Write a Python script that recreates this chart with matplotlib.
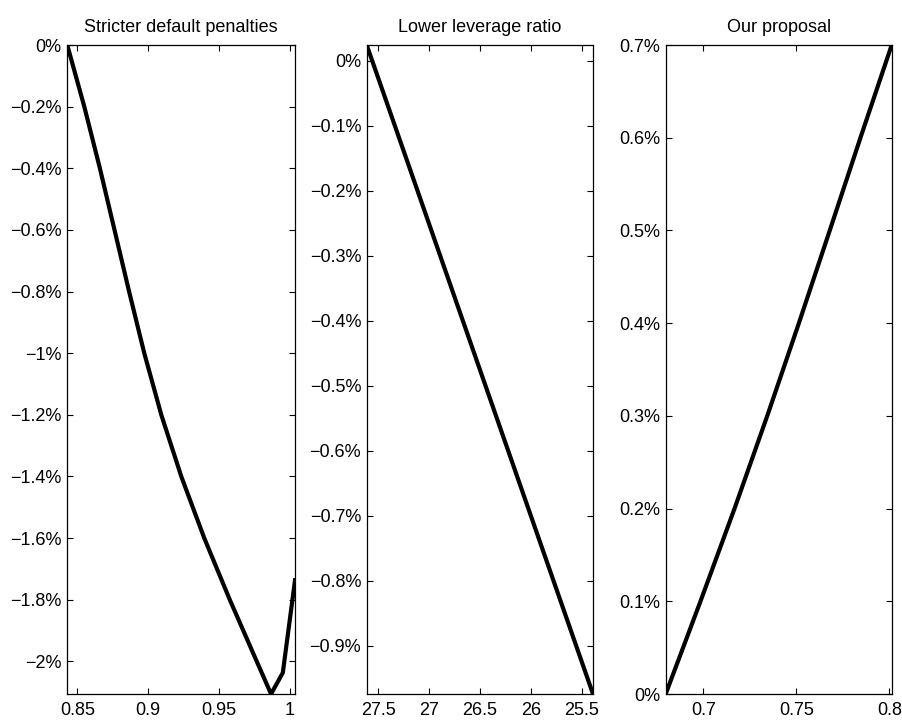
import matplotlib
matplotlib.use('Agg')
import matplotlib.pyplot as plt
from matplotlib.ticker import FuncFormatter

plt.rcParams['font.family'] = ['Liberation Sans', 'DejaVu Sans']

# left panel: stricter default penalties (x = penalty, y = change in %)
pen_x = [0.8429, 0.8549, 0.8659, 0.8762, 0.8865, 0.8972, 0.9092, 0.9233,
         0.9395, 0.9575, 0.9765, 0.9866, 0.9949, 1.0035]
pen_y = [0.0, -0.2, -0.4, -0.6, -0.8, -1.0, -1.2, -1.4,
         -1.6, -1.8, -2.0, -2.106, -2.037, -1.737]

# middle panel: lower leverage ratio
lev_x = [27.614, 25.389]
lev_y = [0.0246, -0.974]

# right panel: our proposal
prop_x = [0.6798, 0.6985, 0.7168, 0.7344, 0.7514, 0.7680, 0.7845, 0.8013]
prop_y = [0.0, 0.1, 0.2, 0.3, 0.4, 0.5, 0.6, 0.7]

titles = ['Stricter default penalties', 'Lower leverage ratio', 'Our proposal']


def pct(v, pos):
    s = '{:g}%'.format(round(v, 6))
    return s.replace('-', '\u2212')


fig = plt.figure(figsize=(9.03, 7.2), dpi=100)
boxes = [[0.0745, 0.0361, 0.2522, 0.9014],
         [0.4061, 0.0361, 0.2506, 0.9014],
         [0.7372, 0.0361, 0.2503, 0.9014]]
axs = [fig.add_axes(b) for b in boxes]

axs[0].plot(pen_x, pen_y, color='black', lw=3)
axs[0].set_xlim(0.8429, 1.0035)
axs[0].set_ylim(-2.106, 0)
axs[0].set_xticks([0.85, 0.9, 0.95, 1])
axs[0].set_xticklabels(['0.85', '0.9', '0.95', '1'])
axs[0].set_yticks([-2.0 + 0.2 * i for i in range(11)])

axs[1].plot(lev_x, lev_y, color='black', lw=3)
axs[1].set_xlim(27.614, 25.389)
axs[1].set_ylim(-0.974, 0.0246)
axs[1].set_xticks([27.5, 27, 26.5, 26, 25.5])
axs[1].set_xticklabels(['27.5', '27', '26.5', '26', '25.5'])
axs[1].set_yticks([-0.9 + 0.1 * i for i in range(10)])

axs[2].plot(prop_x, prop_y, color='black', lw=3)
axs[2].set_xlim(0.6798, 0.8013)
axs[2].set_ylim(0, 0.7)
axs[2].set_xticks([0.7, 0.75, 0.8])
axs[2].set_xticklabels(['0.7', '0.75', '0.8'])
axs[2].set_yticks([0.1 * i for i in range(8)])

for ax, t in zip(axs, titles):
    ax.set_title(t, fontsize=13, pad=9)
    ax.yaxis.set_major_formatter(FuncFormatter(pct))
    ax.tick_params(direction='in', top=True, right=True, length=4, width=0.8,
                   labelsize=13)
    ax.tick_params(axis='x', pad=6)
    ax.tick_params(axis='y', pad=4)
    for sp in ax.spines.values():
        sp.set_linewidth(0.9)

fig.savefig('out.png', dpi=100)
